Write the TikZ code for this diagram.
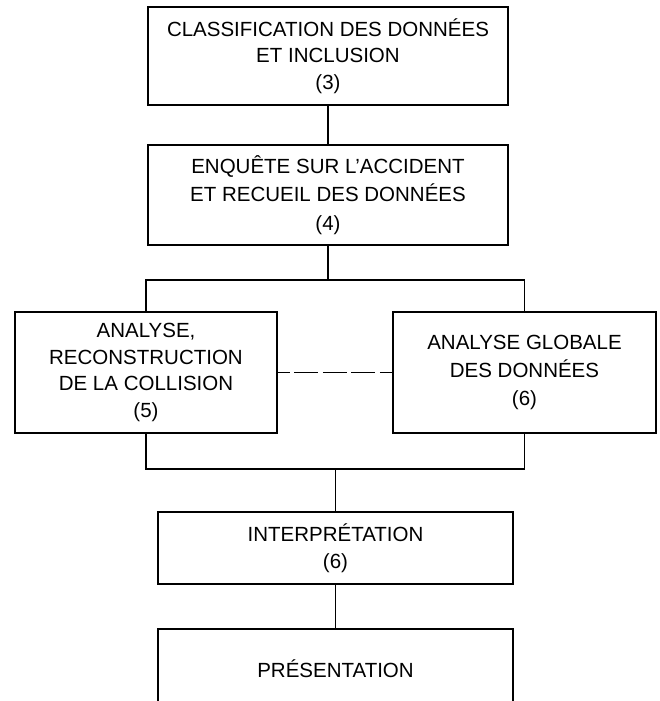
\documentclass[tikz,border=0pt]{standalone}
\usepackage{fontspec}
\setmainfont{Liberation Sans}
\begin{document}
\begin{tikzpicture}[x=1pt,y=-1pt,
  box/.style={draw, line width=1.9pt, inner sep=0pt, align=center,
    font=\fontsize{20.5}{26.5}\selectfont},
  conn/.style={line width=1.5pt},
  dashconn/.style={line width=1.5pt, dash pattern=on 24pt off 4.5pt, dash phase=12pt}]
\useasboundingbox (0,0) rectangle (659,701);
\clip (0,0) rectangle (659,701);
\fill[white] (0,0) rectangle (659,701);
\node[box, minimum width=360pt, minimum height=98pt] (b1) at (328,56)
  {CLASSIFICATION DES DONNÉES\\ET INCLUSION\\(3)};
\node[box, minimum width=360pt, minimum height=100pt, font=\fontsize{20.5}{28.5}\selectfont] (b2) at (328,195)
  {ENQUÊTE SUR L\symbol{39}ACCIDENT\\ET RECUEIL DES DONNÉES\\(4)};
\node[box, minimum width=262pt, minimum height=121pt] (b3) at (146,372.5)
  {ANALYSE,\\RECONSTRUCTION\\DE LA COLLISION\\(5)};
\node[box, minimum width=263pt, minimum height=121pt, font=\fontsize{20.5}{28}\selectfont] (b4) at (524.5,372.5)
  {ANALYSE GLOBALE\\DES DONNÉES\\(6)};
\node[box, minimum width=355pt, minimum height=72pt] (b5) at (335.5,548)
  {INTERPRÉTATION\\(6)};
\node[box, minimum width=355pt, minimum height=80pt] (b6) at (335.5,669)
  {PRÉSENTATION};
\coordinate (j1) at (328,280);
\coordinate (j2) at (335.5,469);
\draw[conn] (b1.south) -- (b2.north);
\draw[conn] (b2.south) -- (j1);
\draw[conn] (b3.north) -- (b3.north |- j1) -- (b4.north |- j1) -- (b4.north);
\draw[dashconn] (b3.east) -- (b4.west);
\draw[conn] (b3.south) -- (b3.south |- j2) -- (b4.south |- j2) -- (b4.south);
\draw[conn] (j2) -- (b5.north);
\draw[conn] (b5.south) -- (b6.north);
\end{tikzpicture}
\end{document}
